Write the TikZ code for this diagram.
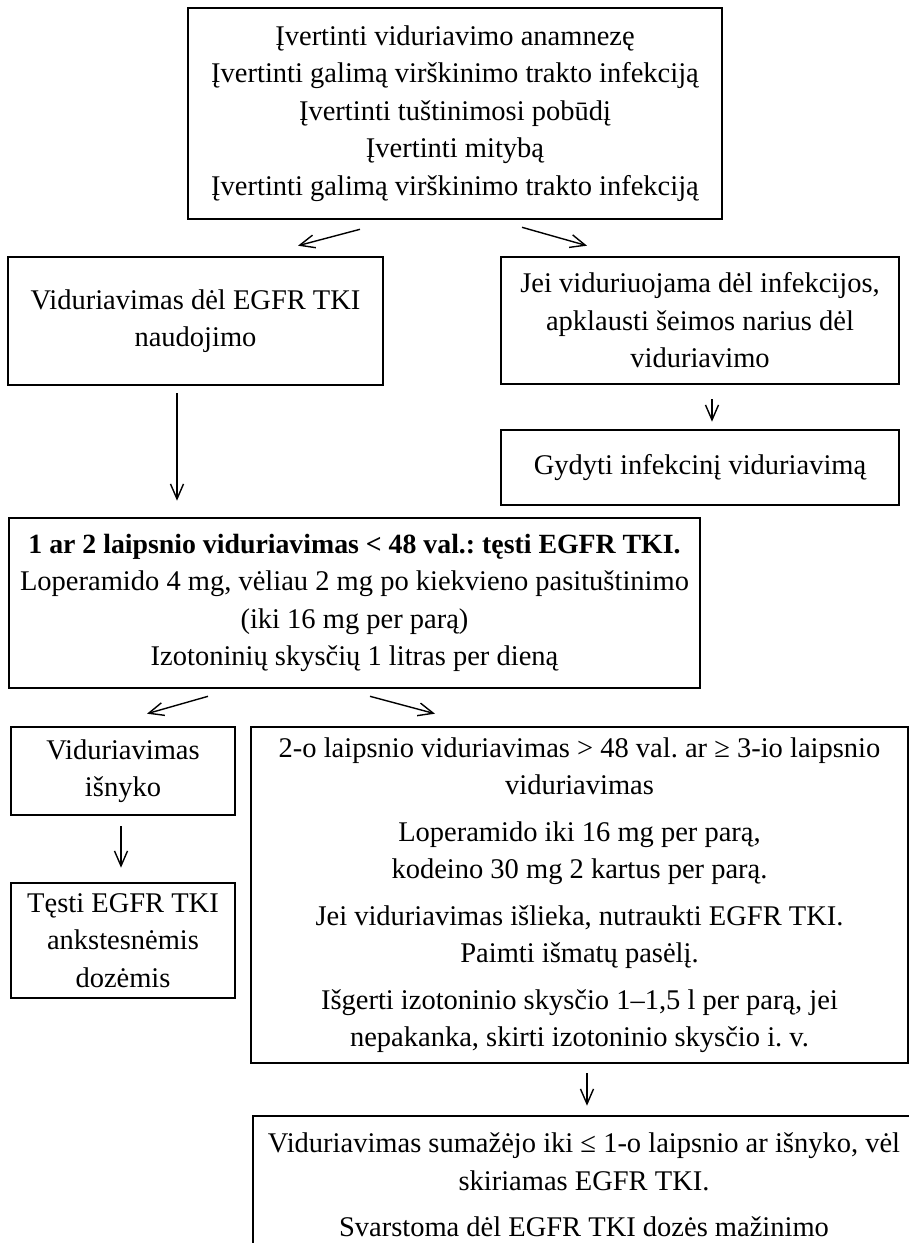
\documentclass[tikz,border=0pt]{standalone}
\usepackage{fontspec}
\setmainfont{Liberation Serif}
\usepackage{tikz}
\usetikzlibrary{arrows.meta,calc,positioning}
\frenchspacing

\begin{document}
\begin{tikzpicture}[x=1pt,y=-1pt,
  box/.style={draw,line width=2.6pt,align=center,inner sep=0pt,font=\fontsize{28.5}{37.5}\selectfont},
  arr/.style={line width=1.4pt,-{Straight Barb[length=15pt,width=13pt]}}]
\useasboundingbox (0,0) rectangle (909,1243);
\node[box,minimum width=534pt,minimum height=211pt] (vertinti) at (455,113.5) {Įvertinti viduriavimo anamnezę\\ Įvertinti galimą virškinimo trakto infekciją\\ Įvertinti tuštinimosi pobūdį\\ Įvertinti mitybą\\ Įvertinti galimą virškinimo trakto infekciją};
\node[box,minimum width=375pt,minimum height=128pt] (egfr) at (195.5,321) {Viduriavimas dėl EGFR TKI\\ naudojimo};
\node[box,minimum width=398pt,minimum height=127pt] (infek) at (700,320.5) {Jei viduriuojama dėl infekcijos,\\ apklausti šeimos narius dėl\\ viduriavimo};
\node[box,minimum width=398pt,minimum height=75pt] (gydyti) at (700,467.5) {Gydyti infekcinį viduriavimą};
\node[box,minimum width=691pt,minimum height=170pt] (laipsn12) at (354.5,603) {{\fontsize{27.8}{37.5}\selectfont\bfseries 1 ar 2 laipsnio viduriavimas < 48 val.: tęsti EGFR TKI.}\\ Loperamido 4 mg, vėliau 2 mg po kiekvieno pasituštinimo\\ (iki 16 mg per parą)\\ Izotoninių skysčių 1 litras per dieną};
\node[box,minimum width=224pt,minimum height=88pt] (isnyko) at (123,771) {Viduriavimas\\ išnyko};
\node[box,minimum width=657pt,minimum height=336pt] (laipsn23) at (579.5,895) {2-o laipsnio viduriavimas > 48 val. ar ≥ 3-io laipsnio\\ viduriavimas\\[9pt] Loperamido iki 16 mg per parą,\\ kodeino 30 mg 2 kartus per parą.\\[9pt] Jei viduriavimas išlieka, nutraukti EGFR TKI.\\ Paimti išmatų pasėlį.\\[9pt] Išgerti izotoninio skysčio 1–1,5 l per parą, jei\\ nepakanka, skirti izotoninio skysčio i. v.};
\node[box,minimum width=224pt,minimum height=115pt] (testi) at (123,940.5) {Tęsti EGFR TKI\\ ankstesnėmis\\ dozėmis};
\node[box,minimum width=662pt,minimum height=138pt] (sumazejo) at (584,1185) {Viduriavimas sumažėjo iki ≤ 1-o laipsnio ar išnyko, vėl\\ skiriamas EGFR TKI.\\[9pt] Svarstoma dėl EGFR TKI dozės mažinimo};
% rodykles
\draw[arr] ($(vertinti.south)+(-95,9)$) -- ($(egfr.north)+(102.5,-10)$);
\draw[arr] ($(vertinti.south)+(67,7)$) -- ($(infek.north)+(-113,-10)$);
\draw[arr] ($(infek.south)+(12,14)$) -- ($(gydyti.north)+(12,-7)$);
\draw[arr] ($(egfr.south)+(-18.5,7)$) -- ($(laipsn12.north)+(-177.5,-16)$);
\draw[arr] ($(laipsn12.south)+(-146.5,7)$) -- ($(isnyko.north)+(24,-12)$);
\draw[arr] ($(laipsn12.south)+(15.5,7)$) -- ($(laipsn23.north)+(-144.5,-12)$);
\draw[arr] ($(isnyko.south)+(-2,10)$) -- ($(testi.north)+(-2,-14)$);
\draw[arr] ($(laipsn23.south)+(7.5,9)$) -- ($(sumazejo.north)+(3,-9)$);
\end{tikzpicture}
\end{document}
